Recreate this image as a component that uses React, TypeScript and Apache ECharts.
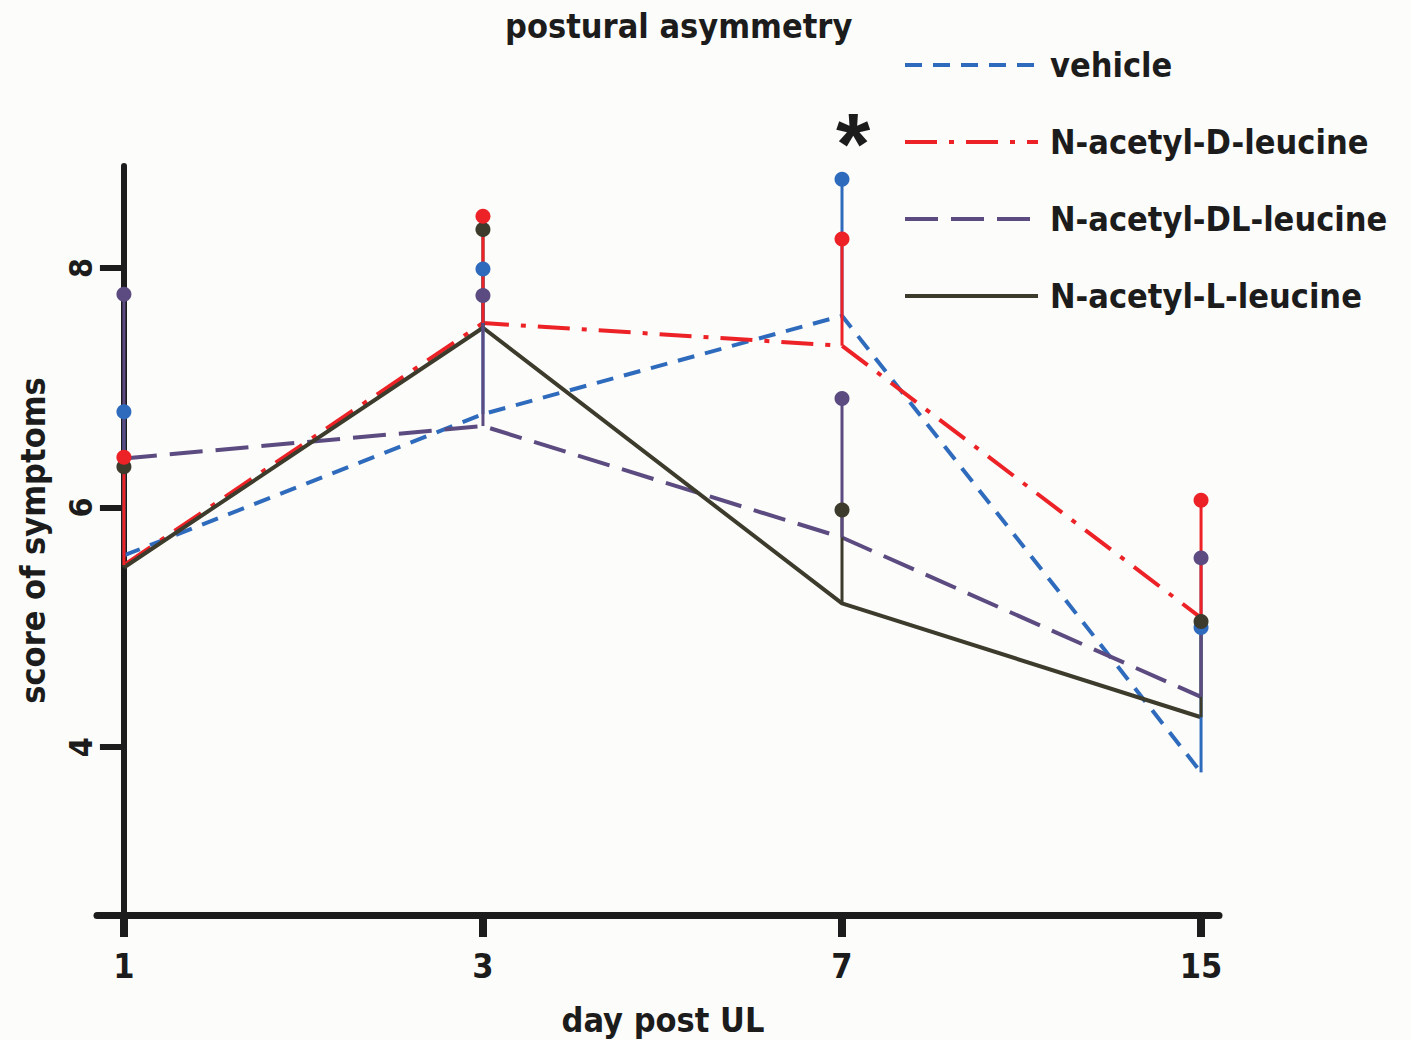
import React, { useEffect, useRef } from "react";
import * as echarts from "echarts";

const days = ["1", "3", "7", "15"];
const seriesNames = ["vehicle", "N-acetyl-D-leucine", "N-acetyl-DL-leucine", "N-acetyl-L-leucine"];
const vehicleMean = [5.6, 6.78, 7.6, 3.79];
const vehicleTop = [6.8, 7.99, 8.74, 5.0];
const dMean = [5.52, 7.54, 7.35, 5.08];
const dTop = [6.42, 8.43, 8.24, 6.06];
const dlMean = [6.41, 6.68, 5.75, 4.42];
const dlTop = [7.78, 7.77, 6.91, 5.58];
const lMean = [5.5, 7.5, 5.2, 4.25];
const lTop = [6.34, 8.32, 5.98, 5.05];
const yTicks = [4, 6, 8];
const xTicks = [0, 1, 2, 3];

const FONT = "'DejaVu Sans Condensed', 'DejaVu Sans', sans-serif";
const INK = "#1c1c1c";
const colors = ["#2f6bbd", "#ec2227", "#5b4b80", "#3c3b2c"];
const dashes: any[] = [[17, 11], [32, 12, 5, 12], [33, 13], "solid"];
const means = [vehicleMean, dMean, dlMean, lMean];
const tops = [vehicleTop, dTop, dlTop, lTop];
const barOrder = [0, 3, 2, 1];
const dotOrder = [2, 0, 3, 1];

export default function App() {
  const ref = useRef<HTMLDivElement>(null);
  useEffect(() => {
    document.body.style.margin = "0";
    const chart = echarts.init(ref.current!, null, { renderer: "svg" });

    const lineSeries = seriesNames.map((name, i) => ({
      name,
      type: "line",
      data: means[i].map((v, j) => [xTicks[j], v]),
      symbol: "none",
      z: 2,
      lineStyle: { color: colors[i], width: 4, type: dashes[i] },
      itemStyle: { color: colors[i] },
    }));

    const barSeries = barOrder.map((i) => ({
      name: seriesNames[i] + " sd",
      type: "custom",
      z: 3,
      data: means[i].map((v, j) => [xTicks[j], v, tops[i][j]]),
      encode: { x: 0, y: [1, 2] },
      renderItem: (params: any, api: any) => {
        const p1 = api.coord([api.value(0), api.value(1)]);
        const p2 = api.coord([api.value(0), api.value(2)]);
        return {
          type: "line",
          shape: { x1: p1[0], y1: p1[1], x2: p2[0], y2: p2[1] },
          style: { stroke: colors[i], lineWidth: 3 },
        };
      },
    }));

    const dotSeries = dotOrder.map((i) => ({
      name: seriesNames[i] + " top",
      type: "custom",
      z: 4,
      data: tops[i].map((v, j) => [xTicks[j], v]),
      encode: { x: 0, y: 1 },
      renderItem: (params: any, api: any) => {
        const p = api.coord([api.value(0), api.value(1)]);
        return {
          type: "circle",
          shape: { cx: p[0], cy: p[1], r: 7.5 },
          style: { fill: colors[i] },
        };
      },
    }));

    chart.setOption({
      animation: false,
      backgroundColor: "#fcfcfa",
      title: {
        text: "postural asymmetry",
        left: 500,
        top: 4,
        textStyle: { fontFamily: FONT, fontSize: 34, fontWeight: "bold", color: INK },
      },
      legend: {
        orient: "vertical",
        left: 898,
        top: 43,
        itemWidth: 133,
        itemHeight: 12,
        itemGap: 43,
        lineStyle: { width: 4 },
        itemStyle: { opacity: 0 },
        textStyle: { fontFamily: FONT, fontSize: 34, fontWeight: "bold", color: INK, padding: [0, 0, 0, 7] },
        data: seriesNames,
      },
      graphic: [
        {
          type: "text",
          left: 836,
          top: 99,
          style: { text: "*", fontFamily: "'Liberation Sans', sans-serif", fontSize: 88, fontWeight: "bold", fill: INK },
        },
      ],
      grid: { left: 97, right: 192, top: 166, bottom: 125, outerBoundsMode: "none", containLabel: false },
      xAxis: {
        type: "value",
        min: -0.075,
        max: 3.05,
        name: "day post UL",
        nameLocation: "middle",
        nameGap: 88,
        nameMoveOverlap: false,
        nameTextStyle: { fontFamily: FONT, fontSize: 34, fontWeight: "bold", color: INK, padding: [0, 0, 0, 10] },
        axisLine: { onZero: false, lineStyle: { color: INK, width: 7 } },
        axisTick: { show: true, customValues: xTicks, length: 22, lineStyle: { color: INK, width: 8 } },
        axisLabel: {
          customValues: xTicks,
          formatter: (v: number) => days[Math.round(v)],
          margin: 34,
          fontFamily: FONT,
          fontSize: 34,
          fontWeight: "bold",
          color: INK,
        },
        splitLine: { show: false },
      },
      yAxis: {
        type: "value",
        min: 2.6,
        max: 8.85,
        name: "score of symptoms",
        nameLocation: "middle",
        nameGap: 47,
        nameMoveOverlap: false,
        nameTextStyle: { fontFamily: FONT, fontSize: 34, fontWeight: "bold", color: INK },
        axisLine: { onZero: true, lineStyle: { color: INK, width: 6 } },
        axisTick: { show: true, customValues: yTicks, length: 24, lineStyle: { color: INK, width: 6 } },
        axisLabel: {
          customValues: yTicks,
          rotate: 90,
          margin: 0,
          fontFamily: FONT,
          fontSize: 32,
          fontWeight: "bold",
          color: INK,
        },
        splitLine: { show: false },
      },
      series: [...lineSeries, ...barSeries, ...dotSeries],
    });
    return () => chart.dispose();
  }, []);
  return <div ref={ref} style={{ width: 1411, height: 1040 }} />;
}
